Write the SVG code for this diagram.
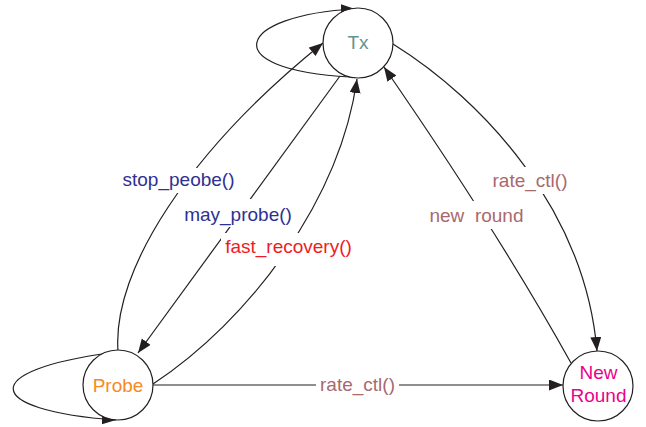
<svg xmlns="http://www.w3.org/2000/svg" width="646" height="427" viewBox="0 0 646 427">
<style>
  .node { fill: #ffffff; stroke: #231f20; stroke-width: 1.2; }
  .edge { fill: none; stroke: #231f20; stroke-width: 1.2; marker-end: url(#arrow); }
  .lbl { font-family: "Liberation Sans", Arial, sans-serif; font-size: 19px; text-anchor: middle; white-space: pre; }
  .bg { fill: #ffffff; }
  .blue { fill: #2e3192; }
  .red { fill: #ed1c24; }
  .rose { fill: #a8696e; }
</style>
<defs>
  <marker id="arrow" markerUnits="userSpaceOnUse" markerWidth="15" markerHeight="12" refX="14" refY="5.5" orient="auto">
    <path d="M0,0 L14,5.5 L0,11 z" fill="#231f20"/>
  </marker>
</defs>
<rect width="646" height="427" fill="#ffffff"/>
<g id="connectors">
  <path class="edge" d="M350,77 C215,70 235,15 355,9"/>
  <path class="edge" d="M110,353 C-20,370 -20,410 116,420"/>
  <path class="edge" d="M118,351 C112,270 190,150 323,43"/>
  <path class="edge" d="M340,76 L138,353"/>
  <path class="edge" d="M153,384 C250,320 340,200 357,79"/>
  <path class="edge" d="M393,44 C483,100 585,210 597,351"/>
  <path class="edge" d="M571,363 Q500,235 384,67"/>
  <path class="edge" d="M153,385 L563,385"/>
  <g id="edge-labels">
    <rect class="bg" x="119" y="168" width="119" height="25"/>
    <text class="lbl blue" x="178.5" y="186">stop_peobe()</text>
    <rect class="bg" x="181" y="199" width="114" height="28"/>
    <text class="lbl blue" x="238" y="221">may_probe()</text>
    <rect class="bg" x="221" y="233" width="135" height="33"/>
    <text class="lbl red" x="288.5" y="253">fast_recovery()</text>
    <rect class="bg" x="490" y="167" width="80" height="27"/>
    <text class="lbl rose" x="530" y="187">rate_ctl()</text>
    <rect class="bg" x="426" y="201" width="101" height="28"/>
    <text class="lbl rose" x="476.5" y="222">new  round</text>
    <rect class="bg" x="316" y="372" width="83" height="26"/>
    <text class="lbl rose" x="357.5" y="391">rate_ctl()</text>
  </g>
</g>
<g id="node-tx">
  <circle class="node" cx="358" cy="43" r="35"/>
  <text class="lbl" x="358" y="49" fill="#5f9493">Tx</text>
</g>
<g id="node-probe">
  <circle class="node" cx="118" cy="385" r="35"/>
  <text class="lbl" x="118" y="392" fill="#f7891f">Probe</text>
</g>
<g id="node-newround">
  <circle class="node" cx="598" cy="386" r="35"/>
  <text class="lbl" x="598.5" y="379" fill="#ec008c">New</text>
  <text class="lbl" x="598.5" y="402" fill="#ec008c">Round</text>
</g>
</svg>
